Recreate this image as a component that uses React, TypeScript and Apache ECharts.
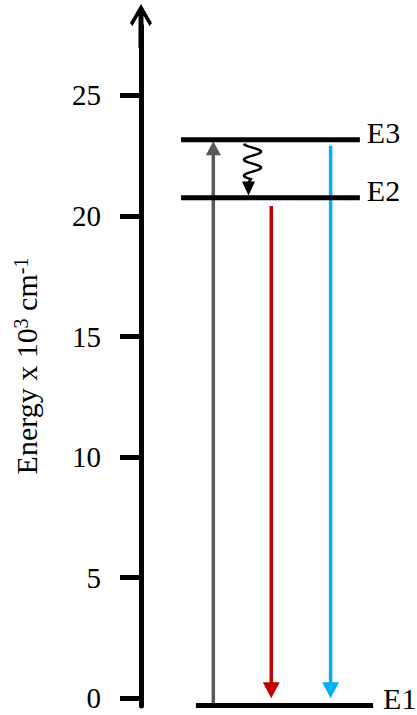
import React, { useEffect, useRef } from "react";
import * as echarts from "echarts";

// ---- data ----
const yTickValues = [0, 5, 10, 15, 20, 25];
const yMin = -0.32;
const yMax = 27.88;

const levelNames = ["E1", "E2", "E3"];
const levelEnergy = [-0.3, 20.76, 23.16];
const levelStart = [19.9, 14.5, 14.5];
const levelEnd = [84.1, 79.3, 79.3];

const transitionNames = ["E1→E3 absorption", "E3→E2 relaxation", "E2→E1 emission", "E3→E1 emission"];
const transitionX = [26.2, 40.4, 47.2, 68.7];
const transitionFrom = [-0.3, 23.0, 20.42, 22.91];
const transitionTo = [23.1, 20.85, 0.0, 0.0];
const transitionKind = ["straight", "wavy", "straight", "straight"];

// ---- styles ----
const transitionColors = ["#595959", "#000000", "#c00000", "#00b0f0"];
const headWidth = [15, 13, 17, 17];
const headLength = [14, 14, 16, 16];
const shaftWidth = [3.5, 2.5, 3.5, 3.5];
const FONT = '"Liberation Serif", "Times New Roman", serif';
const AXIS_ARROW = "path://M11,0 L22,19 L19.5,22 L13.5,11.6 L13.5,44 L8.5,44 L8.5,11.6 L2.5,22 L0,19 Z";

export default function App() {
  const ref = useRef<HTMLDivElement>(null);
  useEffect(() => {
    if (!ref.current) return;
    const chart = echarts.init(ref.current, null, { renderer: "svg" });
    const option: any = {
      animation: false,
      backgroundColor: "#ffffff",
      grid: { left: 141, right: 0, top: 26, bottom: 9, containLabel: false },
      xAxis: {
        type: "value",
        min: 0,
        max: 100,
        show: false,
      },
      yAxis: {
        type: "value",
        min: yMin,
        max: yMax,
        name: "Energy x 10{sup|3} cm{sup|-1}",
        nameLocation: "middle",
        nameRotate: 90,
        nameGap: 100,
        nameTextStyle: {
          fontFamily: FONT,
          fontSize: 30,
          color: "#000",
          rich: {
            sup: { fontFamily: FONT, fontSize: 20, color: "#000", verticalAlign: "top" },
          },
        },
        axisLine: {
          show: true,
          symbol: ["none", AXIS_ARROW],
          symbolSize: [22, 44],
          lineStyle: { color: "#000", width: 5 },
        },
        axisTick: {
          show: true,
          length: 21,
          customValues: yTickValues,
          lineStyle: { color: "#000", width: 5 },
        },
        axisLabel: {
          show: true,
          customValues: yTickValues,
          margin: 40,
          fontFamily: FONT,
          fontSize: 29,
          color: "#000",
        },
        splitLine: { show: false },
      },
      series: [
        {
          type: "custom",
          name: "transitions",
          encode: { x: 0, y: [1, 2] },
          data: transitionX.map((x, i) => [x, transitionFrom[i], transitionTo[i]]),
          z: 2,
          renderItem: (params: any, api: any) => {
            const i = params.dataIndex;
            const a = api.coord([api.value(0), api.value(1)]);
            const b = api.coord([api.value(0), api.value(2)]);
            const dir = b[1] > a[1] ? 1 : -1;
            const color = transitionColors[i];
            const hw = headWidth[i];
            const hl = headLength[i];
            const baseY = b[1] - dir * hl;
            const children: any[] = [];
            if (transitionKind[i] === "wavy") {
              const headX = a[0] - 4;
              const pts: number[][] = [];
              const len = Math.abs(baseY - a[1]) - 2;
              const P = 16;
              const A = 8.5;
              for (let t = 0; t <= len; t += 0.5) {
                pts.push([a[0] + A * Math.sin((2 * Math.PI * t) / P - Math.PI / 2), a[1] + dir * t]);
              }
              pts.push([headX, baseY + dir * 1]);
              children.push({
                type: "polyline",
                shape: { points: pts },
                style: { stroke: color, lineWidth: shaftWidth[i], fill: null },
              });
              children.push({
                type: "polygon",
                shape: { points: [[headX - hw / 2, baseY], [headX + hw / 2, baseY], [headX, b[1]]] },
                style: { fill: color },
              });
            } else {
              children.push({
                type: "line",
                shape: { x1: a[0], y1: a[1], x2: b[0], y2: baseY + dir * 1 },
                style: { stroke: color, lineWidth: shaftWidth[i] },
              });
              children.push({
                type: "polygon",
                shape: { points: [[b[0] - hw / 2, baseY], [b[0] + hw / 2, baseY], [b[0], b[1]]] },
                style: { fill: color },
              });
            }
            return { type: "group", children };
          },
        },
        {
          type: "custom",
          name: "levels",
          encode: { x: [0, 2], y: 1 },
          data: levelEnergy.map((e, i) => [levelStart[i], e, levelEnd[i]]),
          z: 3,
          renderItem: (params: any, api: any) => {
            const i = params.dataIndex;
            const p1 = api.coord([api.value(0), api.value(1)]);
            const p2 = api.coord([api.value(2), api.value(1)]);
            return {
              type: "group",
              children: [
                {
                  type: "line",
                  shape: { x1: p1[0], y1: p1[1], x2: p2[0], y2: p2[1] },
                  style: { stroke: "#000", lineWidth: 5 },
                },
                {
                  type: "text",
                  x: p2[0] + (i === 0 ? 10 : 7),
                  y: p2[1] - 7,
                  style: {
                    text: levelNames[i],
                    fill: "#000",
                    fontFamily: FONT,
                    fontSize: 30,
                    align: "left",
                    verticalAlign: "middle",
                  },
                },
              ],
            };
          },
        },
      ],
    };
    chart.setOption(option);
    return () => chart.dispose();
  }, []);
  return (
    <div
      ref={ref}
      style={{ position: "absolute", left: 0, top: 0, width: 417, height: 715 }}
    />
  );
}
